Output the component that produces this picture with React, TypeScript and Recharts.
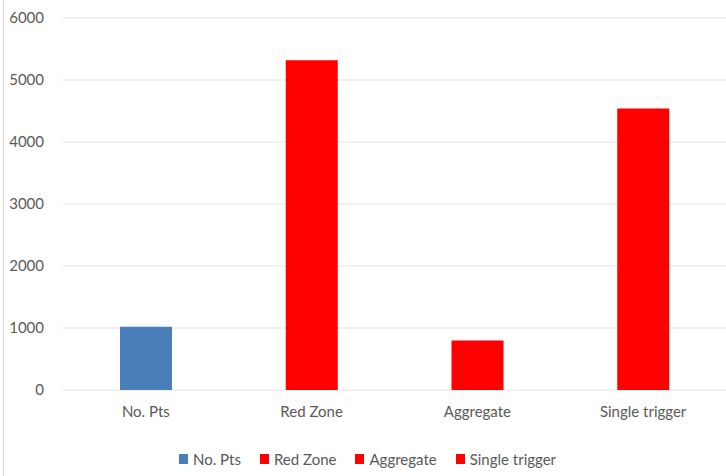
import { BarChart, Bar, XAxis, YAxis, CartesianGrid, Legend } from 'recharts';

const categories = ['No. Pts', 'Red Zone', 'Aggregate', 'Single trigger'];
const values = [1020, 5320, 800, 4540];
const colors = ['#4a7ebb', '#ff0000', '#ff0000', '#ff0000'];
const yTicks = [0, 1000, 2000, 3000, 4000, 5000, 6000];

// one row per category, each row only carries its own series so the stack is a single bar
const rows = categories.map((cat, i) => {
  const row: Record<string, string | number> = { name: cat };
  row[cat] = values[i];
  return row;
});

const FONT = 'Lato, "Liberation Sans", sans-serif';
const TEXT = '#595959';

function LegendRow() {
  return (
    <div
      style={{
        display: 'flex',
        justifyContent: 'center',
        alignItems: 'center',
        height: 30,
        fontFamily: FONT,
        fontSize: 15,
        color: TEXT,
        paddingLeft: 28,
      }}
    >
      {categories.map((cat, i) => (
        <div key={cat} style={{ display: 'flex', alignItems: 'center', marginRight: 19 }}>
          <span
            style={{ width: 9, height: 10, background: colors[i], display: 'inline-block', marginRight: 5 }}
          />
          <span>{cat}</span>
        </div>
      ))}
    </div>
  );
}

export default function App() {
  return (
    <div style={{ position: 'absolute', left: 0, top: 0, width: 726, height: 476, background: '#fff' }}>
      <div style={{ position: 'absolute', left: 3, top: 0, width: 1, height: 476, background: '#d9d9d9' }} />
      <BarChart
        width={726}
        height={476}
        data={rows}
        margin={{ top: 18, right: 0, left: 0, bottom: 2 }}
      >
        <CartesianGrid vertical={false} stroke="#e3e3e3" />
        <XAxis
          dataKey="name"
          height={54}
          tickLine={false}
          axisLine={false}
          tick={{ fontSize: 15, fill: TEXT, fontFamily: FONT }}
          tickMargin={10}
        />
        <YAxis
          width={63}
          domain={[0, 6000]}
          ticks={yTicks}
          tickLine={false}
          axisLine={false}
          tick={{ fontSize: 15, fill: TEXT, fontFamily: FONT }}
          tickMargin={13}
        />
        <Legend verticalAlign="bottom" height={30} content={() => <LegendRow />} />
        {categories.map((cat, i) => (
          <Bar key={cat} dataKey={cat} stackId="one" fill={colors[i]} barSize={52} isAnimationActive={false} />
        ))}
      </BarChart>
    </div>
  );
}
